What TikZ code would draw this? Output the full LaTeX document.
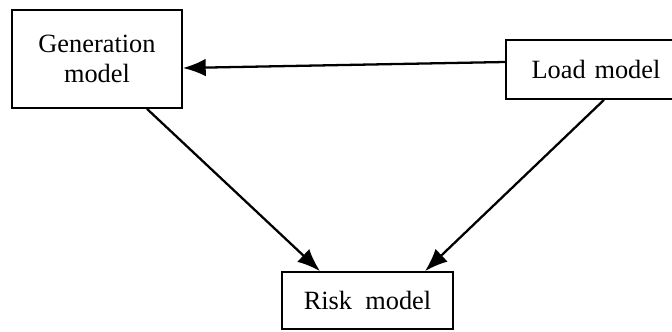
\documentclass[tikz,border=0pt]{standalone}
\usepackage{fontspec}
\setmainfont{Liberation Serif}
\usetikzlibrary{arrows.meta, positioning, calc}

\begin{document}
\begin{tikzpicture}[
    x=0.02cm, y=-0.02cm,
    font=\fontsize{15}{17}\selectfont,
    block/.style={draw=black, line width=1pt, fill=white, align=center, inner sep=2pt},
    link/.style={-{Latex[length=13pt, width=10pt]}, line width=1.3pt, black},
]
\useasboundingbox (0,0) rectangle (672,331);

% ---- bloques ----
\node[block, minimum width=3.4cm, minimum height=1.96cm] (gen) at (97,59) {Generation\\model};
\node[block, minimum width=3.48cm, minimum height=1.18cm, text width=3cm] (load) at (593,69.5) {\hspace*{0.12cm}Load model\hfill};
\node[block, minimum width=3.42cm, minimum height=1.14cm] (risk) at (367.5,300.5) {Risk\ \ model};

% ---- conexiones ----
\draw[link] ([yshift=0.15cm]load.west) -- ([yshift=-0.18cm]gen.east);
\draw[link] ([xshift=1cm]gen.south) -- ([xshift=-0.95cm]risk.north);
\draw[link] ([xshift=0.22cm]load.south) -- ([xshift=1.15cm]risk.north);

\end{tikzpicture}
\end{document}
